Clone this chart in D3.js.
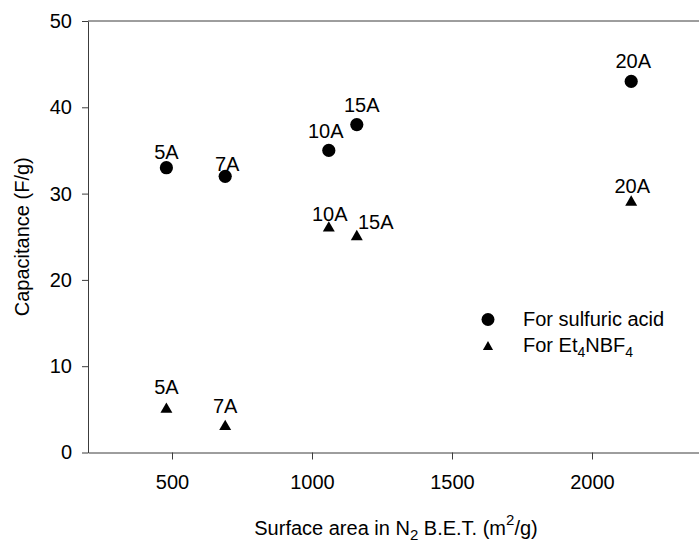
<!DOCTYPE html>
<html>
<head>
<meta charset="utf-8">
<script src="https://cdn.jsdelivr.net/npm/d3@7"></script>
<style>
  body { margin: 0; background: #fff; }
  svg { display: block; font-family: "Liberation Sans", Arial, sans-serif; }
</style>
</head>
<body>
<section id="grafico"></section>
<script>
// samples and measured values
const samples = ["5A", "7A", "10A", "15A", "20A"];
const surfaceArea = [480, 690, 1060, 1160, 2140];
const capSulfuric = [33, 32, 35, 38, 43];
const capEt4NBF4 = [5, 3, 26, 25, 29];
const xTicks = [500, 1000, 1500, 2000];
const yTicks = [0, 10, 20, 30, 40, 50];

// label nudges (px) so the labels sit like in the original figure
const nudgeSulfuric = [[0, -9], [2, -5], [-3, -12], [5, -13], [2, -13]];
const nudgeEt4 = [[0, -15], [0, -14], [1, -7], [19, -8], [1, -9]];

const width = 699;
const height = 544;
const marginL = 88;
const marginT = 21;
const plotBottom = 452.5;
const plotRight = 704; // right border falls just outside the picture

const svg = d3.select("section#grafico")
    .append("svg")
    .attr("width", width)
    .attr("height", height);

const xScale = d3.scaleLinear()
    .domain([200, 2400])
    .range([marginL, plotRight]);

const yScale = d3.scaleLinear()
    .domain([0, 50])
    .range([plotBottom, marginT]);

const axisColor = "#3c3c3c";

// frame top line
svg.append("line")
    .attr("x1", marginL).attr("x2", plotRight)
    .attr("y1", marginT).attr("y2", marginT)
    .attr("stroke", axisColor);

const xAxis = d3.axisBottom(xScale)
    .tickValues(xTicks)
    .tickFormat(d3.format("d"))
    .tickSize(7)
    .tickSizeOuter(0)
    .tickPadding(15);

const yAxis = d3.axisLeft(yScale)
    .tickValues(yTicks)
    .tickSize(6)
    .tickSizeOuter(0)
    .tickPadding(10);

const gx = svg.append("g")
    .attr("transform", `translate(0,${plotBottom})`)
    .call(xAxis);

const gy = svg.append("g")
    .attr("transform", `translate(${marginL},0)`)
    .call(yAxis);

[gx, gy].forEach(g => {
    g.select(".domain").attr("stroke", axisColor);
    g.selectAll(".tick line").attr("stroke", axisColor);
    g.selectAll(".tick text")
        .attr("fill", "#000")
        .style("font-size", "20px")
        .style("font-family", "'Liberation Sans', Arial, sans-serif");
});

// axis titles
const xTitle = svg.append("text")
    .attr("x", (marginL + plotRight) / 2)
    .attr("y", 535)
    .attr("text-anchor", "middle")
    .style("font-size", "20px");
xTitle.append("tspan").text("Surface area in N");
xTitle.append("tspan").attr("dy", 5).style("font-size", "15px").text("2");
xTitle.append("tspan").attr("dy", -5).text(" B.E.T. (m");
xTitle.append("tspan").attr("dy", -10).style("font-size", "15px").text("2");
xTitle.append("tspan").attr("dy", 10).text("/g)");

svg.append("text")
    .attr("transform", `translate(28.5,${(marginT + plotBottom) / 2}) rotate(-90)`)
    .attr("text-anchor", "middle")
    .style("font-size", "20px")
    .text("Capacitance (F/g)");

const triangle = d3.symbol().type(d3.symbolTriangle).size(62);

// sulfuric acid points
svg.selectAll("circle.sulf")
    .data(samples)
    .enter()
    .append("circle")
    .attr("class", "sulf")
    .attr("cx", (d, i) => xScale(surfaceArea[i]))
    .attr("cy", (d, i) => yScale(capSulfuric[i]))
    .attr("r", 6.6)
    .attr("fill", "#000");

// Et4NBF4 points
svg.selectAll("path.et4")
    .data(samples)
    .enter()
    .append("path")
    .attr("class", "et4")
    .attr("d", triangle)
    .attr("transform", (d, i) => `translate(${xScale(surfaceArea[i])},${yScale(capEt4NBF4[i])})`)
    .attr("fill", "#000");

svg.selectAll("text.lblS")
    .data(samples)
    .enter()
    .append("text")
    .attr("class", "lblS")
    .attr("x", (d, i) => xScale(surfaceArea[i]) + nudgeSulfuric[i][0])
    .attr("y", (d, i) => yScale(capSulfuric[i]) + nudgeSulfuric[i][1])
    .attr("text-anchor", "middle")
    .style("font-size", "20px")
    .text(d => d);

svg.selectAll("text.lblE")
    .data(samples)
    .enter()
    .append("text")
    .attr("class", "lblE")
    .attr("x", (d, i) => xScale(surfaceArea[i]) + nudgeEt4[i][0])
    .attr("y", (d, i) => yScale(capEt4NBF4[i]) + nudgeEt4[i][1])
    .attr("text-anchor", "middle")
    .style("font-size", "20px")
    .text(d => d);

// legend
const legend = svg.append("g").attr("transform", "translate(488,0)");
legend.append("circle")
    .attr("cx", 0).attr("cy", 319.5).attr("r", 6.5).attr("fill", "#000");
legend.append("path")
    .attr("d", d3.symbol().type(d3.symbolTriangle).size(45))
    .attr("transform", "translate(0,347)")
    .attr("fill", "#000");
legend.append("text")
    .attr("x", 35).attr("y", 326)
    .style("font-size", "20px")
    .text("For sulfuric acid");
const lt = legend.append("text")
    .attr("x", 35).attr("y", 352)
    .style("font-size", "20px");
lt.append("tspan").text("For Et");
lt.append("tspan").attr("dy", 5).style("font-size", "14px").text("4");
lt.append("tspan").attr("dy", -5).text("NBF");
lt.append("tspan").attr("dy", 5).style("font-size", "14px").text("4");
</script>
</body>
</html>
